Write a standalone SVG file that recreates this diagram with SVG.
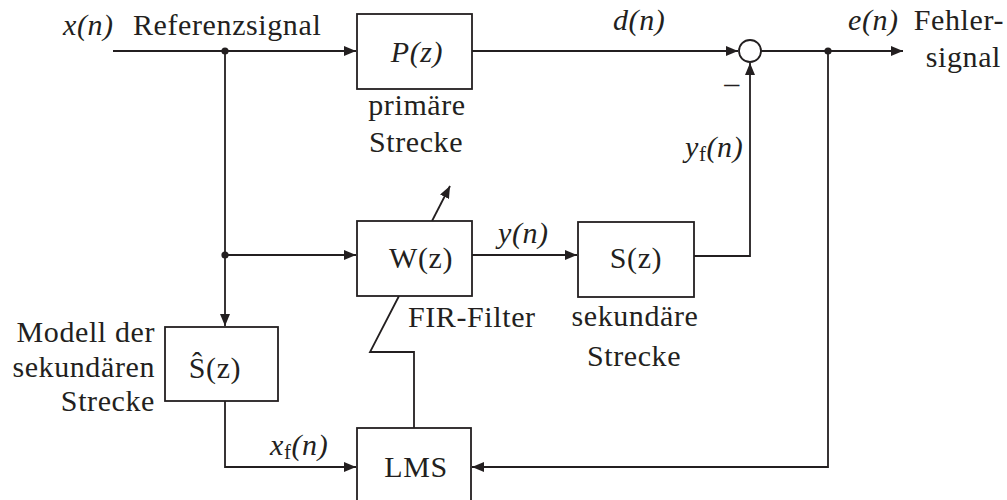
<svg xmlns="http://www.w3.org/2000/svg" width="1007" height="500" viewBox="0 0 1007 500" font-family="'Liberation Serif', 'DejaVu Serif', serif">
  <style>
    .blk { fill: #fff; stroke: #231f20; stroke-width: 1.8; }
    .wire { fill: none; stroke: #231f20; stroke-width: 1.8; }
    .arr { marker-end: url(#head); }
    text { font-family: 'Liberation Serif', 'DejaVu Serif', serif; font-size: 30px; fill: #231f20; letter-spacing: 0.6px; }
    .it { font-style: italic; }
    .sub { font-size: 21px; font-style: normal; }
    .mid { text-anchor: middle; }
    .end { text-anchor: end; }
  </style>
  <defs>
    <marker id="head" markerUnits="userSpaceOnUse" markerWidth="14" markerHeight="10" refX="12" refY="5" orient="auto">
      <path d="M0,0 L12,5 L0,10 Z" fill="#231f20"/>
    </marker>
  </defs>

  <!-- signal lines -->
  <g id="connectors">
    <path class="wire arr" d="M113,51 H356"/>
    <path class="wire arr" d="M472,51 H738"/>
    <path class="wire arr" d="M761,51 H903"/>
    <path class="wire arr" d="M225,51 V326"/>
    <path class="wire arr" d="M225,255 H356"/>
    <path class="wire arr" d="M472,255 H577"/>
    <path class="wire arr" d="M694,256 H750 V63"/>
    <path class="wire arr" d="M828,51 V467 H472"/>
    <path class="wire arr" d="M225,401 V467 H356"/>
    <!-- adaptation path from LMS through W(z) -->
    <path class="wire" d="M414,428 V352 H370 L399,296"/>
    <path class="wire arr" d="M432,221 L450,186"/>
    <circle cx="225" cy="51" r="3.6" fill="#231f20"/>
    <circle cx="225" cy="255" r="3.6" fill="#231f20"/>
    <circle cx="828" cy="51" r="3.6" fill="#231f20"/>
  </g>

  <!-- input / output labels -->
  <g id="input">
    <text x="63" y="35" class="it">x(n)</text>
    <text x="133" y="35">Referenzsignal</text>
  </g>
  <g id="output">
    <text x="848" y="30" class="it">e(n)</text>
    <text x="1004" y="30" class="end">Fehler-</text>
    <text x="1001" y="67" class="end">signal</text>
  </g>

  <g id="primary">
    <rect class="blk" x="357" y="14" width="115" height="75"/>
    <text x="417" y="62" class="mid it">P(z)</text>
    <text x="417" y="115" class="mid">primäre</text>
    <text x="416" y="152" class="mid">Strecke</text>
  </g>
  <text x="613" y="30" class="it">d(n)</text>

  <g id="sum">
    <circle class="blk" cx="750" cy="51" r="11"/>
    <text x="732" y="93" class="mid">–</text>
  </g>
  <text x="685" y="157" class="it">y<tspan class="sub" dy="4">f</tspan><tspan dy="-4">(n)</tspan></text>

  <g id="wfilter">
    <rect class="blk" x="357" y="221" width="115" height="75"/>
    <text x="421" y="268" class="mid">W(z)</text>
    <text x="408" y="327">FIR-Filter</text>
  </g>
  <text x="498" y="243" class="it">y(n)</text>

  <g id="secondary">
    <rect class="blk" x="578" y="222" width="116" height="75"/>
    <text x="636" y="268" class="mid">S(z)</text>
    <text x="635" y="326" class="mid">sekundäre</text>
    <text x="634" y="366" class="mid">Strecke</text>
  </g>

  <g id="model">
    <rect class="blk" x="165" y="327" width="113" height="74"/>
    <text x="215" y="378" class="mid">Ŝ(z)</text>
    <text x="155" y="342" class="end">Modell der</text>
    <text x="155" y="377" class="end">sekundären</text>
    <text x="155" y="411" class="end">Strecke</text>
  </g>
  <text x="270" y="455" class="it">x<tspan class="sub" dy="4">f</tspan><tspan dy="-4">(n)</tspan></text>

  <g id="lms">
    <rect class="blk" x="357" y="428" width="114" height="76"/>
    <text x="416" y="477" class="mid">LMS</text>
  </g>
</svg>
